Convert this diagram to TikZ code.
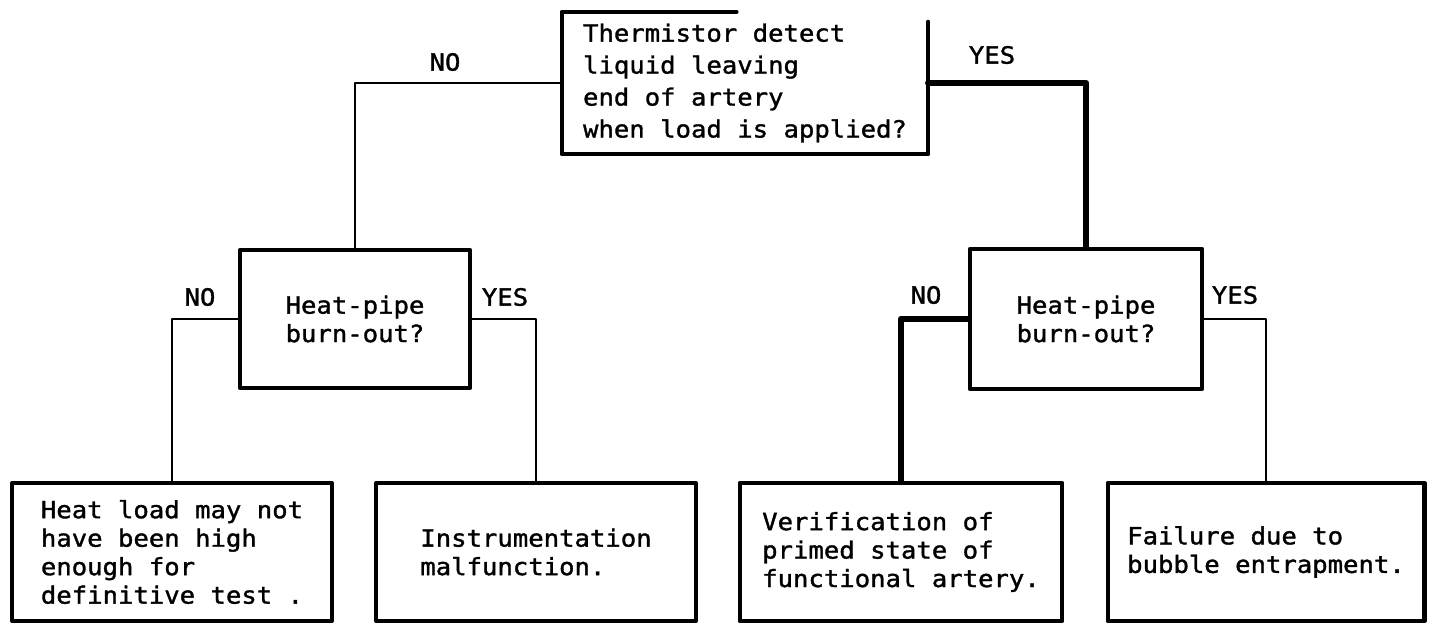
\documentclass[tikz,border=0pt]{standalone}
\usepackage{fontspec}
\usepackage{tikz}
\newfontfamily\typefont[FakeStretch=1.08,FakeBold=1.4]{DejaVu Sans Mono}

\tikzset{
  decision/.style={draw, line width=2.7pt, align=center, inner sep=0pt,
    font=\typefont\fontsize{13.5pt}{16.2pt}\selectfont},
  outcome/.style={draw, line width=2.3pt, align=left, inner sep=0pt,
    minimum width=6.4cm, minimum height=2.76cm,
    font=\typefont\fontsize{13.5pt}{16.2pt}\selectfont},
  answer/.style={inner sep=0pt, font=\typefont\fontsize{13.5pt}{15pt}\selectfont},
  wire/.style={line width=1.4pt},
  heavywire/.style={line width=3.8pt}
}

\begin{document}
\begin{tikzpicture}[line cap=round,line join=round,x=0.02cm,y=-0.02cm]
    \useasboundingbox (0,0) rectangle (1434,623);

    \node[align=left, inner sep=0pt, minimum width=7.32cm, minimum height=2.84cm,
      font=\typefont\fontsize{13.5pt}{18.2pt}\selectfont] (detect) at (745,83)
      {Thermistor detect\\liquid leaving\\end of artery\\when load is applied?};
    \draw[line width=2.2pt] ([xshift=3.5cm]detect.north west) -- (detect.north west)
      -- (detect.south west) -- (detect.south east) -- ([yshift=-0.2cm]detect.north east);

    \node[decision, minimum width=4.6cm, minimum height=2.76cm] (burnL) at (355,319)
      {Heat-pipe\\burn-out?};
    \node[decision, minimum width=4.64cm, minimum height=2.8cm] (burnR) at (1086,319)
      {Heat-pipe\\burn-out?};

    \node[outcome] (lowload) at (172,552)
      {Heat load may not\\have been high\\enough for\\definitive test .};
    \node[outcome] (instr) at (536,552)
      {Instrumentation\\malfunction.};
    \node[outcome, minimum width=6.46cm] (primed) at (901,552)
      {Verification of\\primed state of\\functional artery.};
    \node[outcome, minimum width=6.34cm] (bubble) at (1266,552)
      {Failure due to\\bubble entrapment.};

    \draw[wire] (detect.west) -| (burnL.north);
    \draw[heavywire] (detect.east) -| (burnR.north);
    \draw[wire] (burnL.west) -| (lowload.north);
    \draw[wire] (burnL.east) -| (instr.north);
    \draw[heavywire] (burnR.west) -| (primed.north);
    \draw[wire] (burnR.east) -| (bubble.north);

    \node[answer] (no0) at (445,62) {NO};
    \node[answer] (yes0) at (992,55) {YES};
    \node[answer] (no1) at (200,297) {NO};
    \node[answer] (yes1) at (505,297) {YES};
    \node[answer] (no2) at (926,295) {NO};
    \node[answer] (yes2) at (1235,295) {YES};
  \end{tikzpicture}
\end{document}
